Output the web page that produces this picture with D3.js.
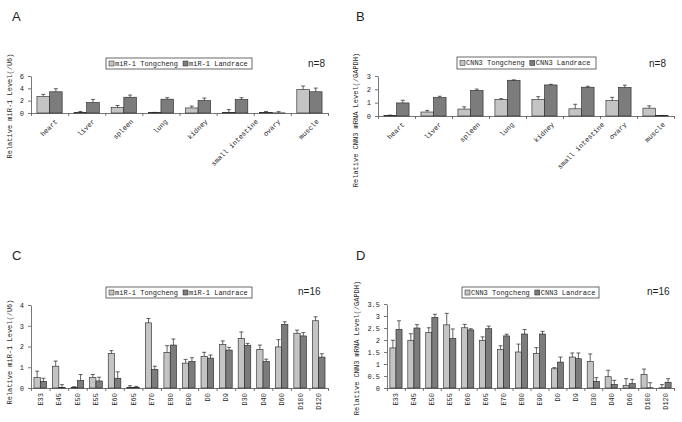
<!DOCTYPE html>
<html>
<head>
<meta charset="utf-8">
<script src="https://cdn.jsdelivr.net/npm/d3@7"></script>
<style>
body { margin: 0; background: #fff; }
text { fill: #1e1e1e; }
</style>
</head>
<body>
<svg width="682" height="422"></svg>
<script>
// categories
var tissues = ["heart", "liver", "spleen", "lung", "kidney", "small intestine", "ovary", "muscle"];
var stages = ["E33", "E45", "E50", "E55", "E60", "E65", "E70", "E80", "E90", "D0", "D9", "D30", "D40", "D60", "D100", "D120"];

// A: miR-1 in tissues
var mirTissueTong = [2.67, 0.05, 0.87, 0.05, 0.82, 0.1, 0.1, 3.82];
var mirTissueTongErr = [0.35, 0.2, 0.35, 0.05, 0.3, 0.45, 0.15, 0.55];
var mirTissueLand = [3.44, 1.7, 2.56, 2.24, 2.02, 2.18, 0.02, 3.44];
var mirTissueLandErr = [0.5, 0.5, 0.35, 0.25, 0.4, 0.3, 0.2, 0.6];

// B: CNN3 in tissues
var cnnTissueTong = [0.05, 0.3, 0.52, 1.25, 1.25, 0.54, 1.15, 0.59];
var cnnTissueTongErr = [0.02, 0.12, 0.17, 0.05, 0.2, 0.34, 0.25, 0.17];
var cnnTissueLand = [0.98, 1.38, 1.92, 2.68, 2.33, 2.16, 2.14, 0.03];
var cnnTissueLandErr = [0.2, 0.1, 0.1, 0.03, 0.05, 0.07, 0.17, 0.01];

// C: miR-1 over development
var mirStageTong = [0.5, 1.05, 0.03, 0.5, 1.67, 0.03, 3.14, 1.72, 1.2, 1.52, 2.09, 2.38, 1.86, 1.98, 2.64, 3.24];
var mirStageTongErr = [0.31, 0.25, 0.03, 0.15, 0.13, 0.08, 0.21, 0.32, 0.18, 0.2, 0.18, 0.32, 0.21, 0.35, 0.15, 0.19];
var mirStageLand = [0.32, 0.03, 0.36, 0.34, 0.47, 0.02, 0.9, 2.07, 1.28, 1.44, 1.83, 2.06, 1.28, 3.06, 2.51, 1.49];
var mirStageLandErr = [0.15, 0.13, 0.29, 0.18, 0.31, 0.06, 0.15, 0.29, 0.18, 0.15, 0.13, 0.09, 0.11, 0.13, 0.16, 0.16];

// D: CNN3 over development
var cnnStageTong = [1.67, 1.99, 2.32, 2.63, 2.51, 1.99, 1.6, 1.5, 1.43, 0.8, 1.29, 1.1, 0.47, 0.11, 0.56, 0.01];
var cnnStageTongErr = [0.32, 0.27, 0.19, 0.48, 0.14, 0.14, 0.16, 0.33, 0.25, 0.05, 0.17, 0.32, 0.27, 0.28, 0.23, 0.13];
var cnnStageLand = [2.44, 2.5, 2.94, 2.06, 2.42, 2.47, 2.17, 2.25, 2.25, 1.08, 1.22, 0.28, 0.15, 0.18, 0.01, 0.24];
var cnnStageLandErr = [0.36, 0.14, 0.13, 0.4, 0.05, 0.11, 0.07, 0.19, 0.11, 0.21, 0.24, 0.15, 0.17, 0.18, 0.21, 0.15];

var svg = d3.select("svg");
var mono = "Liberation Mono, DejaVu Sans Mono, monospace";
var sans = "Liberation Sans, Arial, sans-serif";

drawPanel(svg, {letter: "A", lx: 12, ly: 21, cats: tissues, tilt: true,
  tong: mirTissueTong, tongErr: mirTissueTongErr, land: mirTissueLand, landErr: mirTissueLandErr,
  x0: 31, x1: 328, y0: 113, ytop: 76, ymax: 6, yticks: [0, 2, 4, 6],
  ylabel: "Relative miR-1 Level(/U6)", ylx: 10, yly: 106,
  legend: ["miR-1 Tongcheng", "miR-1 Landrace"], box: [106, 58, 146, 11], n: "n=8", nx: 308, ny: 67});

drawPanel(svg, {letter: "B", lx: 356, ly: 21, cats: tissues, tilt: true,
  tong: cnnTissueTong, tongErr: cnnTissueTongErr, land: cnnTissueLand, landErr: cnnTissueLandErr,
  x0: 378, x1: 674, y0: 116, ytop: 76, ymax: 3, yticks: [0, 1, 2, 3],
  ylabel: "Relative CNN3 mRNA Level(/GAPDH)", ylx: 356, yly: 120,
  legend: ["CNN3 Tongcheng", "CNN3 Landrace"], box: [457, 57, 139, 12], n: "n=8", nx: 649, ny: 67});

drawPanel(svg, {letter: "C", lx: 12, ly: 260, cats: stages, tilt: false,
  tong: mirStageTong, tongErr: mirStageTongErr, land: mirStageLand, landErr: mirStageLandErr,
  x0: 31, x1: 328, y0: 388, ytop: 305, ymax: 4, yticks: [0, 1, 2, 3, 4],
  ylabel: "Relative miR-1 Level(/U6)", ylx: 10, yly: 352,
  legend: ["miR-1 Tongcheng", "miR-1 Landrace"], box: [106, 287, 146, 11], n: "n=16", nx: 298, ny: 295});

drawPanel(svg, {letter: "D", lx: 356, ly: 260, cats: stages, tilt: false,
  tong: cnnStageTong, tongErr: cnnStageTongErr, land: cnnStageLand, landErr: cnnStageLandErr,
  x0: 387, x1: 674, y0: 388, ytop: 304, ymax: 3.5, yticks: [0, 0.5, 1, 1.5, 2, 2.5, 3, 3.5],
  ylabel: "Relative CNN3 mRNA Level(/GAPDH)", ylx: 357, yly: 348,
  legend: ["CNN3 Tongcheng", "CNN3 Landrace"], box: [462, 287, 137, 11], n: "n=16", nx: 647, ny: 295});

function drawPanel(svg, o) {
  var g = svg.append("g");
  var colors = ["#c4c4c4", "#7c7c7c"];

  var x = d3.scaleBand().domain(o.cats).range([o.x0, o.x1]);
  var sub = d3.scaleBand().domain([0, 1]).range([x.step() * 0.16, x.step() * 0.84]);
  var y = d3.scaleLinear().domain([0, o.ymax]).range([o.y0, o.ytop]);

  g.append("text").attr("x", o.lx).attr("y", o.ly)
    .style("font-family", sans).style("font-size", "13px")
    .text(o.letter);

  // y axis
  var yAxis = d3.axisLeft(y).tickValues(o.yticks).tickSize(3).tickSizeOuter(0)
    .tickFormat(function(d) { return String(d); });
  var ya = g.append("g").attr("transform", "translate(" + o.x0 + ",0)").call(yAxis);
  ya.selectAll("text").style("font-family", mono).style("font-size", "7px").attr("fill", "#2a2a2a").attr("dx", "-1");

  // x axis, ticks between categories
  var idx = d3.scaleLinear().domain([0, o.cats.length]).range([o.x0, o.x1]);
  var xAxis = d3.axisBottom(idx).ticks(o.cats.length).tickSize(3).tickSizeOuter(0).tickFormat("");
  g.append("g").attr("transform", "translate(0," + o.y0 + ")").call(xAxis);

  g.selectAll(".domain, .tick line").attr("stroke", "#555").attr("stroke-width", 0.8);

  // category labels: tilted ones are centred under their category, tops aligned
  var labels = g.selectAll(".cat").data(o.cats).enter().append("text")
    .attr("class", "cat")
    .attr("text-anchor", "end")
    .style("font-family", mono).style("font-size", "7px")
    .text(function(d) { return d; });
  labels.attr("transform", function(d) {
    var cx = x(d) + x.bandwidth() / 2;
    if (o.tilt) {
      var half = this.getComputedTextLength() * 0.3536;
      return "translate(" + (cx + half + 1) + "," + (o.y0 + 9) + ") rotate(-45)";
    }
    return "translate(" + (cx + 2.5) + "," + (o.y0 + 5) + ") rotate(-90)";
  });

  // bars
  var series = [[o.tong, o.tongErr], [o.land, o.landErr]];
  series.forEach(function(s, si) {
    var rows = o.cats.map(function(c, i) { return {cat: c, v: s[0][i], e: s[1][i]}; });
    g.selectAll(".bar" + si).data(rows).enter().append("rect")
      .attr("x", function(d) { return x(d.cat) + sub(si); })
      .attr("width", sub.bandwidth())
      .attr("y", function(d) { return y(d.v); })
      .attr("height", function(d) { return o.y0 - y(d.v); })
      .attr("fill", colors[si])
      .attr("stroke", "#222").attr("stroke-width", 0.6);
    var eg = g.selectAll(".err" + si).data(rows).enter().append("g");
    eg.append("line")
      .attr("x1", function(d) { return x(d.cat) + sub(si) + sub.bandwidth() / 2; })
      .attr("x2", function(d) { return x(d.cat) + sub(si) + sub.bandwidth() / 2; })
      .attr("y1", function(d) { return y(d.v); })
      .attr("y2", function(d) { return y(d.v + d.e); })
      .attr("stroke", "#222").attr("stroke-width", 0.7);
    eg.append("line")
      .attr("x1", function(d) { return x(d.cat) + sub(si) + sub.bandwidth() / 2 - 2; })
      .attr("x2", function(d) { return x(d.cat) + sub(si) + sub.bandwidth() / 2 + 2; })
      .attr("y1", function(d) { return y(d.v + d.e); })
      .attr("y2", function(d) { return y(d.v + d.e); })
      .attr("stroke", "#222").attr("stroke-width", 0.7);
  });

  // y axis title
  g.append("text")
    .attr("transform", "translate(" + o.ylx + "," + o.yly + ") rotate(-90)")
    .attr("text-anchor", "middle").attr("dy", "0.35em")
    .style("font-family", mono).style("font-size", "7px")
    .text(o.ylabel);

  // legend
  var b = o.box;
  g.append("rect").attr("x", b[0]).attr("y", b[1]).attr("width", b[2]).attr("height", b[3])
    .attr("fill", "#fff").attr("stroke", "#444").attr("stroke-width", 0.8);
  var lx = b[0] + 3;
  o.legend.forEach(function(name, i) {
    g.append("rect").attr("x", lx).attr("y", b[1] + b[3] / 2 - 2.5).attr("width", 5).attr("height", 5)
      .attr("fill", colors[i]).attr("stroke", "#222").attr("stroke-width", 0.5);
    var t = g.append("text").attr("x", lx + 6).attr("y", b[1] + b[3] / 2).attr("dy", "0.35em")
      .style("font-family", mono).style("font-size", "7px").text(name);
    lx += 6 + t.node().getComputedTextLength() + 5;
  });

  g.append("text").attr("x", o.nx).attr("y", o.ny)
    .style("font-family", sans).style("font-size", "10px")
    .text(o.n);
}
</script>
</body>
</html>
